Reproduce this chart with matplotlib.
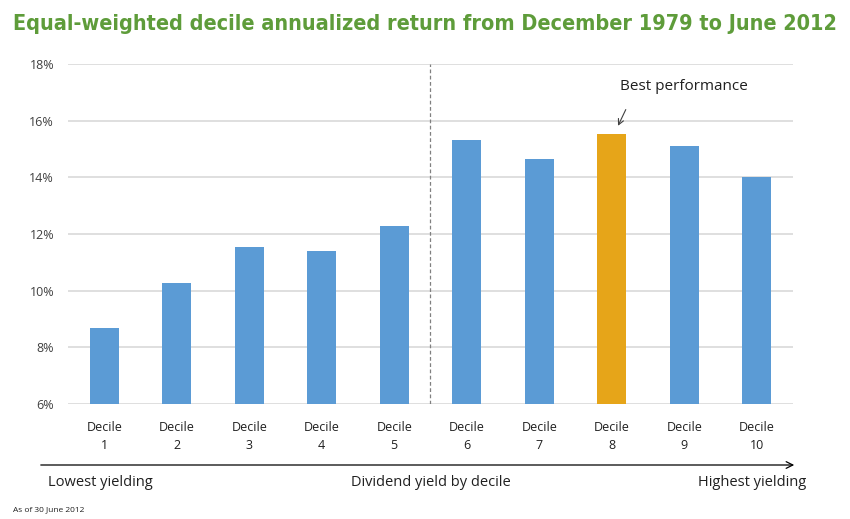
import matplotlib
matplotlib.use("Agg")
import matplotlib.pyplot as plt
from matplotlib import font_manager
from matplotlib.font_manager import FontProperties

categories = ["Decile\n1", "Decile\n2", "Decile\n3", "Decile\n4", "Decile\n5",
              "Decile\n6", "Decile\n7", "Decile\n8", "Decile\n9", "Decile\n10"]
returns = [8.67, 10.26, 11.54, 11.39, 12.28, 15.31, 14.64, 15.53, 15.09, 14.00]
highlight = [False, False, False, False, False, False, False, True, False, False]
yticks = [6, 8, 10, 12, 14, 16, 18]
ytick_labels = ["6%", "8%", "10%", "12%", "14%", "16%", "18%"]

title = "Equal-weighted decile annualized return from December 1979 to June 2012"
annotation = "Best performance"
axis_left = "Lowest yielding"
axis_mid = "Dividend yield by decile"
axis_right = "Highest yielding"
footnote = "As of 30 June 2012"

# find a condensed bold face if present
cond = None
for f in font_manager.fontManager.ttflist:
    if ("Narrow" in f.name or f.stretch in ("condensed", "semi-condensed")) and f.weight in ("bold", 700) and f.style == "normal":
        cond = f.fname
        break
if cond:
    title_fp = FontProperties(fname=cond)
else:
    title_fp = FontProperties(family=["Open Sans", "DejaVu Sans"], weight="bold")
body_font = ["Open Sans", "DejaVu Sans"]

BLUE = "#5B9BD5"
ORANGE = "#E6A519"
GREEN = "#5E9C3A"
GRID = "#D9D9D9"

fig = plt.figure(figsize=(8.5, 5.19), dpi=100)
ax = fig.add_axes([68/850, 1-404/519, (793-68)/850, 340/519])

x = list(range(len(categories)))
colors = [ORANGE if h else BLUE for h in highlight]
ax.bar(x, returns, width=0.4, color=colors, zorder=3)

ax.set_xlim(-0.5, len(categories)-0.5)
ax.set_ylim(6, 18)
ax.set_yticks(yticks)
ax.set_yticklabels(ytick_labels, fontfamily=body_font, fontsize=9, color="#404040")
ax.set_xticks(x)
ax.set_xticklabels(categories, fontfamily=body_font, fontsize=9, color="#202020", linespacing=1.5)
ax.tick_params(axis="both", length=0)
ax.tick_params(axis="y", pad=10)
ax.tick_params(axis="x", pad=12)
for s in ax.spines.values():
    s.set_visible(False)
ax.yaxis.grid(True, color=GRID, linewidth=1.2, zorder=0)
ax.set_axisbelow(True)

# divider between decile 5 and 6
ax.axvline(4.5, color="#808080", linestyle=(0, (3, 2)), linewidth=0.9, zorder=2)

# annotation
best = highlight.index(True)
ax.annotate("", xy=(best + 0.07, returns[best] + 0.2), xytext=(best + 0.21, returns[best] + 0.95),
            arrowprops=dict(arrowstyle="->", color="#404040", lw=0.8), zorder=4)
ax.text(best + 1.0, 17.19, annotation, ha="center", va="center",
        fontfamily=body_font, fontsize=11, color="#202020")

# title, fitted to the reference width
t = fig.text(0.5, 1-24/519, title, ha="center", va="center", fontproperties=title_fp,
             fontsize=18, color=GREEN)
fig.canvas.draw()
w = t.get_window_extent().width
t.set_fontsize(18 * 824 / w)

# bottom arrow and labels
fig.add_artist(matplotlib.patches.FancyArrowPatch((38/850, 1-465/519), (797/850, 1-465/519),
               transform=fig.transFigure, arrowstyle="->", mutation_scale=12,
               color="black", lw=0.9))
fig.text(48/850, 1-483/519, axis_left, ha="left", va="center", fontfamily=body_font, fontsize=10.5, color="#202020")
fig.text(431/850, 1-483/519, axis_mid, ha="center", va="center", fontfamily=body_font, fontsize=10.5, color="#202020")
fig.text(806/850, 1-483/519, axis_right, ha="right", va="center", fontfamily=body_font, fontsize=10.5, color="#202020")
fig.text(13/850, 1-510/519, footnote, ha="left", va="center", fontfamily=body_font, fontsize=6, color="#202020")

fig.savefig("out.png", dpi=100)
